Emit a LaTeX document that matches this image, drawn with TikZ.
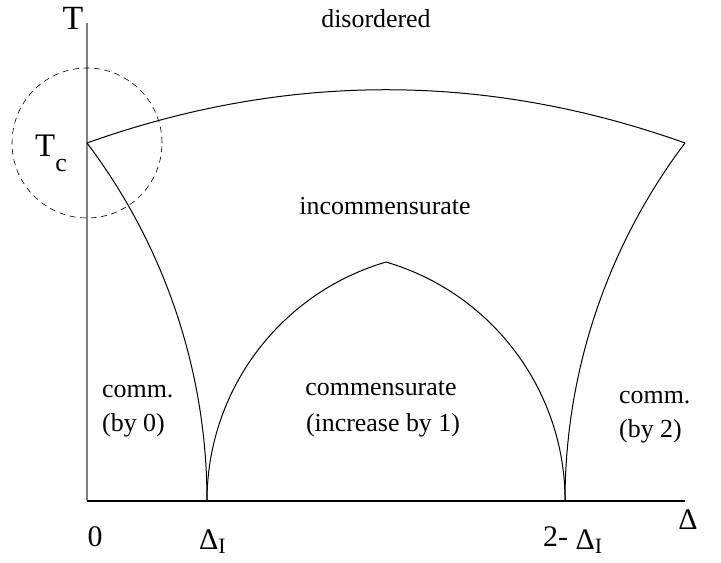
\documentclass[tikz,border=0pt]{standalone}
\usepackage{fontspec}
\setmainfont{Liberation Serif}
\begin{document}
\begin{tikzpicture}[x=1bp,y=1bp,
  txt/.style={inner sep=0pt,anchor=base,font=\fontsize{26}{30}\selectfont},
  axlbl/.style={inner sep=0pt,anchor=base,font=\fontsize{30}{34}\selectfont},
  phase/.style={black,line width=1bp}]
  \useasboundingbox (0,0) rectangle (721,563);
  \coordinate (O) at (87,62);
  \coordinate (Ttop) at (87,540);
  \coordinate (Dend) at (685,62);
  \coordinate (Tc) at (87,420);
  \coordinate (R) at (685,420);
  \coordinate (DI) at (207,62);
  \coordinate (DJ) at (565,62);
  \draw[black!50,line width=1.5bp] (O) -- (Ttop);
  \draw[line width=1.2bp] (O) -- (Dend);
  \draw[line width=0.6bp,dash pattern=on 6bp off 4.5bp] (Tc) circle (75);
  % phase boundaries
  \draw[phase] (Tc) .. controls (286,491) and (486,491) .. (R);
  \draw[phase] (Tc) arc[start angle=37.06,end angle=0,radius=594];
  \draw[phase] (R) arc[start angle=142.94,end angle=180,radius=594];
  \draw[phase] (DI) arc[start angle=180,end angle=106.32,radius=249]
    arc[start angle=73.68,end angle=0,radius=249];
  % axis labels
  \node[axlbl,font=\fontsize{34}{38}\selectfont] (T) at (73,533) {T};
  \node[axlbl,anchor=base west,font=\fontsize{33}{36}\selectfont] (TcL) at (35,406)
    {T\raisebox{-15bp}{\fontsize{26}{26}\selectfont c}};
  \node[axlbl] (zero) at (95,16) {0};
  \node[axlbl,anchor=base west] (DIL) at (199,13)
    {Δ\raisebox{-4bp}{\fontsize{22}{22}\selectfont I}};
  \node[axlbl,anchor=base west] (DJL) at (543,16)
    {2- \raisebox{-3bp}{Δ\raisebox{-4bp}{\fontsize{22}{22}\selectfont I}}};
  \node[axlbl] (D) at (688,33) {Δ};
  % phases
  \node[txt] (dis) at (376,535) {disordered};
  \node[txt] (inc) at (385,348) {incommensurate};
  \node[txt] (com) at (381,167) {commensurate};
  \node[txt] (comb) at (383,131) {(increase by 1)};
  \node[txt,anchor=base west] (left) at (102,165) {comm.};
  \node[txt,anchor=base west] (leftb) at (102,131) {(by 0)};
  \node[txt,anchor=base west] (right) at (619,159) {comm.};
  \node[txt,anchor=base west] (rightb) at (619,125) {(by 2)};
\end{tikzpicture}
\end{document}
